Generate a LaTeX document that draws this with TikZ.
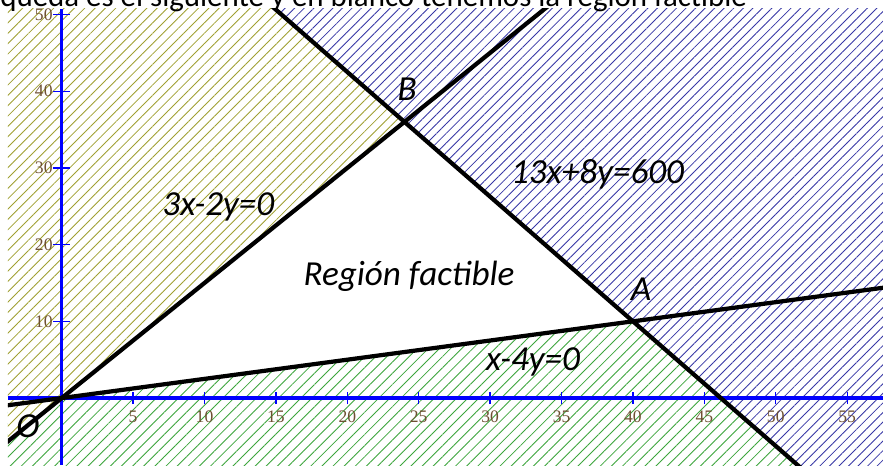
\documentclass[tikz,border=0pt]{standalone}
\usepackage{fontspec}
\setmainfont{Carlito}
\newfontfamily\tickfont{Liberation Serif}
\usetikzlibrary{patterns.meta}

\definecolor{olivehatch}{RGB}{160,160,50}
\definecolor{greenhatch}{RGB}{60,165,60}
\definecolor{bluehatch}{RGB}{55,55,165}
\definecolor{ticktext}{RGB}{110,80,50}

\tikzset{
  zone/.style 2 args={fill=white,
    postaction={pattern={Lines[angle=45,distance=#2,line width=0.6pt]}, pattern color=#1}},
  constraint/.style={black, line width=3pt},
  axis/.style={blue, line width=2.4pt},
  tickmark/.style={blue, line width=0.9pt},
  ticklbl/.style={font=\tickfont\fontsize{12.5}{12.5}\selectfont, text=ticktext, inner sep=0pt},
  lbl/.style={font=\itshape\fontsize{25}{25}\selectfont, inner sep=0pt, anchor=base},
}

\begin{document}
\begin{tikzpicture}[x=0.357cm, y=0.19175cm]
  \def\xmin{-3.76}
  \def\xmax{57.51}
  \def\ymin{-8.74}
  \def\ymax{50.72}

  \useasboundingbox (-4.32,-8.74) rectangle (57.51,51.89);

  % end points of the three boundary lines
  \coordinate (dirS) at (-6,-9);
  \coordinate (dirE) at (36,54);
  \coordinate (lowS) at (-8,-2);
  \coordinate (lowE) at (64,16);
  \coordinate (capS) at (8,62);
  \coordinate (capE) at (56,-16);

  % vertices
  \coordinate (O) at (0,0);
  \coordinate (A) at (40,10);
  \coordinate (B) at (24,36);

  \begin{scope}
    \clip (\xmin,\ymin) rectangle (\xmax,\ymax);

    % excluded half-planes
    \path[zone={greenhatch}{5.6pt}] (lowS) -- (lowE) -- (64,-16) -- (-8,-16) -- cycle;
    \path[zone={olivehatch}{5.2pt}] (dirS) -- (dirE) -- (-8,54) -- (-8,-9) -- cycle;
    \path[zone={bluehatch}{4.8pt}] (capS) -- (capE) -- (64,-16) -- (64,62) -- cycle;

    % axes
    \draw[axis] (\xmin,0) -- (\xmax,0);
    \draw[axis] (0,\ymin) -- (0,\ymax);
    \foreach \t in {5,10,...,55} {
      \draw[tickmark] (\t,-0.8) -- (\t,0.8);
      \node[ticklbl] (tx\t) at (\t,-2.4) {\t};
    }
    \foreach \t in {10,20,...,50} {
      \draw[tickmark] (-0.6,\t) -- (0.6,\t);
      \node[ticklbl, anchor=east] (ty\t) at (-0.62,\t) {\t};
    }

    % boundary lines
    \draw[constraint] (dirS) -- (dirE);
    \draw[constraint] (lowS) -- (lowE);
    \draw[constraint] (capS) -- (capE);

    % labels
    \node[lbl] (lblO) at (-2.36,-5.08) {O};
    \node[lbl] (lblA) at (40.57,12.78) {A};
    \node[lbl] (lblB) at (24.2,38.85) {B};
    \node[lbl] (lblDir) at (10.97,23.86) {3x-2y=0};
    \node[lbl] (lblCap) at (37.52,28.0) {13x+8y=600};
    \node[lbl] (lblLow) at (33.0,3.65) {x-4y=0};
    \node[lbl] (lblRegion) at (24.32,14.73) {Región factible};
  \end{scope}

  % caption line, cut by the top edge
  \node[font=\fontsize{22}{22}\selectfont, inner sep=0pt, anchor=base west] (intro)
    at (-4.32,50.98) {queda es el siguiente y en blanco tenemos la región factible};
\end{tikzpicture}
\end{document}
